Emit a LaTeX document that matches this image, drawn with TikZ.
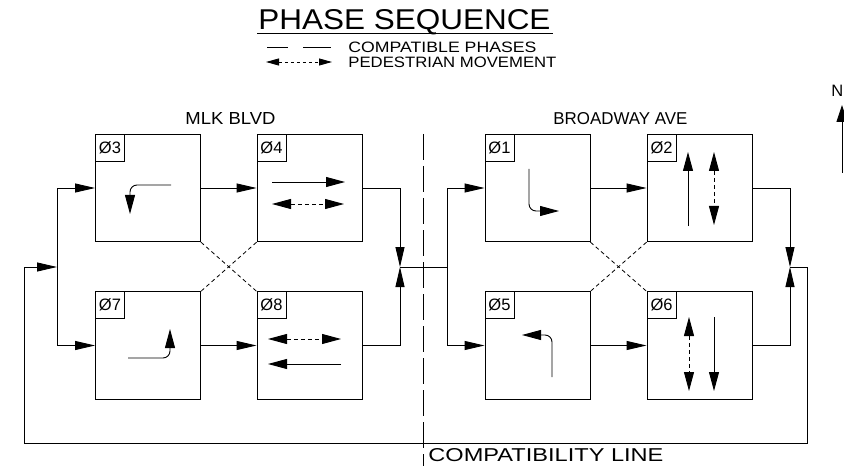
\documentclass[tikz,border=0pt]{standalone}
\usepackage{fontspec}
\setmainfont{Liberation Sans}
\usetikzlibrary{arrows.meta}
\newcommand\cadtxt[3]{\resizebox{#1}{#2}{#3}}
\begin{document}
\begin{tikzpicture}[x=1pt,y=-1pt,line width=0.9pt,
  phasebox/.style={draw, minimum width=105pt, minimum height=107.5pt, inner sep=0pt},
  labbox/.style={draw, anchor=north west, minimum width=29pt, minimum height=27pt, inner sep=0pt, font=\fontsize{16.5}{16}\selectfont},
  conn/.style={-{Triangle[length=20pt,width=9pt]}},
  flow/.style={-{Triangle[length=19pt,width=10pt]}},
  pedflow/.style={{Triangle[length=19pt,width=10pt]}-{Triangle[length=19pt,width=10pt]}, dash pattern=on 4pt off 3pt},
  turn/.style={flow, rounded corners=7pt},
  compat/.style={dash pattern=on 4pt off 3pt, line width=0.8pt},
  txt/.style={anchor=base west, inner sep=0pt}
]
\useasboundingbox (0,0) rectangle (844,468);

% title and legend
\node[txt] (title) at (258,30) {\cadtxt{292pt}{20pt}{PHASE SEQUENCE}};
\coordinate (ul1) at (257,33.5); \coordinate (ul2) at (553,33.5);
\draw (ul1) -- (ul2);
\coordinate (d1a) at (267,47); \coordinate (d1b) at (288,47);
\coordinate (d2a) at (303,47); \coordinate (d2b) at (331,47);
\draw (d1a) -- (d1b); \draw (d2a) -- (d2b);
\node[txt] (lg1) at (348,52.5) {\cadtxt{188pt}{10.5pt}{COMPATIBLE PHASES}};
\coordinate (pa) at (266,62); \coordinate (pb) at (332,62);
\draw[{Triangle[length=13pt,width=7pt]}-{Triangle[length=13pt,width=7pt]}, dash pattern=on 3pt off 3pt] (pa) -- (pb);
\node[txt] (lg2) at (348,67.5) {\cadtxt{208pt}{10.5pt}{PEDESTRIAN MOVEMENT}};

% street names
\node[txt] (mlk) at (185,125) {\cadtxt{90pt}{12pt}{MLK BLVD}};
\node[txt] (bwy) at (553,125) {\cadtxt{134pt}{12pt}{BROADWAY AVE}};
\node[txt] (cl) at (428,461) {\cadtxt{235pt}{13pt}{COMPATIBILITY LINE}};

% north arrow
\node[txt] (north) at (831,97) {\fontsize{16.5}{16}\selectfont N};
\coordinate (na) at (842,173); \coordinate (nb) at (842,105);
\draw[-{Triangle[length=17pt,width=11pt]}] (na) -- (nb);

% phase boxes
\node[phasebox] (p3) at (148,188) {};
\node[phasebox] (p4) at (309.5,188) {};
\node[phasebox] (p7) at (148,345.5) {};
\node[phasebox] (p8) at (309.5,345.5) {};
\node[phasebox] (p1) at (537.5,188) {};
\node[phasebox] (p2) at (699.5,188) {};
\node[phasebox] (p5) at (537.5,345.5) {};
\node[phasebox] (p6) at (699.5,345.5) {};
\node[labbox] (l3) at (p3.north west) {Ø3};
\node[labbox] (l4) at (p4.north west) {Ø4};
\node[labbox] (l7) at (p7.north west) {Ø7};
\node[labbox] (l8) at (p8.north west) {Ø8};
\node[labbox] (l1) at (p1.north west) {Ø1};
\node[labbox] (l2) at (p2.north west) {Ø2};
\node[labbox] (l5) at (p5.north west) {Ø5};
\node[labbox] (l6) at (p6.north west) {Ø6};

% movements inside boxes
\draw[turn] (171,185) -- (130,185) -- (130,214);
\draw[flow] (272,182) -- (345,182);
\draw[pedflow] (272,204) -- (344,204);
\draw[turn] (128,358) -- (170,358) -- (170,329);
\draw[pedflow] (268,339) -- (341,339);
\draw[flow] (341,364) -- (268,364);
\draw[turn] (529,169) -- (529,211) -- (559,211);
\draw[flow] (688,226) -- (688,152);
\draw[pedflow] (714,152) -- (714,225);
\draw[turn] (552,377) -- (552,335) -- (522,335);
\draw[pedflow] (689,317) -- (689,391);
\draw[flow] (714,317) -- (714,391);

% compatibility diagonals
\draw[compat] (p3.south east) -- (p8.north west);
\draw[compat] (p4.south west) -- (p7.north east);
\draw[compat] (p1.south east) -- (p6.north west);
\draw[compat] (p2.south west) -- (p5.north east);

% compatibility line
\coordinate (ct) at (423,134); \coordinate (cb) at (423,466);
\draw[dash pattern=on 26pt off 6pt] (ct) -- (cb);

% connectors
\coordinate (sL) at (57,267);
\coordinate (jL) at (400,267);
\coordinate (sR) at (447,267);
\coordinate (jR) at (790,267);
\coordinate (lr) at (807,443);
\coordinate (ll) at (24,443);
\draw[conn] (sL) |- (p3.west);
\draw[conn] (sL) |- (p7.west);
\draw[conn] (p3.east) -- (p4.west);
\draw[conn] (p7.east) -- (p8.west);
\draw[conn] (p4.east) -| (jL);
\draw[conn] (p8.east) -| (jL);
\draw (jL) -- (sR);
\draw[conn] (sR) |- (p1.west);
\draw[conn] (sR) |- (p5.west);
\draw[conn] (p1.east) -- (p2.west);
\draw[conn] (p5.east) -- (p6.west);
\draw[conn] (p2.east) -| (jR);
\draw[conn] (p6.east) -| (jR);
\draw[conn] (jR) -| (lr) -- (ll) |- (sL);
\end{tikzpicture}
\end{document}
